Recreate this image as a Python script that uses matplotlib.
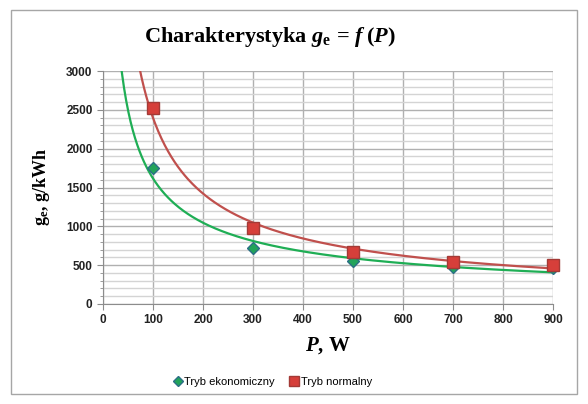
import numpy as np
import matplotlib
matplotlib.use('Agg')
import matplotlib.pyplot as plt
from matplotlib.patches import Rectangle
from matplotlib.ticker import MultipleLocator

plt.rcParams['mathtext.fontset'] = 'custom'
plt.rcParams['mathtext.rm'] = 'Liberation Serif'
plt.rcParams['mathtext.it'] = 'Liberation Serif:italic'
plt.rcParams['mathtext.bf'] = 'Liberation Serif:bold'
plt.rcParams['mathtext.bfit'] = 'Liberation Serif:italic:bold'

#%% Data
P = [100, 300, 500, 700, 900]                 # power, W
ge_eko = [1750, 720, 550, 470, 460]           # Tryb ekonomiczny, g/kWh
ge_norm = [2530, 980, 665, 545, 505]          # Tryb normalny, g/kWh
x_ticks = [0, 100, 200, 300, 400, 500, 600, 700, 800, 900]
y_ticks = [0, 500, 1000, 1500, 2000, 2500, 3000]

#%% Power trend lines (least squares in log-log, like Excel)
def power_fit(x, y):
    b, ln_a = np.polyfit(np.log(x), np.log(y), 1)
    return np.exp(ln_a), b

xx = np.linspace(20, 900, 400)
a1, b1 = power_fit(P, ge_eko)
a2, b2 = power_fit(P, ge_norm)

green = '#1fae55'
red = '#c0504d'

fig = plt.figure(figsize=(5.88, 4.04), dpi=100)
fig.patches.append(Rectangle((11/588, 1 - 394/404), 566/588, 384/404,
                             transform=fig.transFigure, fill=False,
                             edgecolor='#a6a6a6', linewidth=1.0))

ax = fig.add_axes([103/588, 100/404, 450/588, 233/404])
ax.plot(xx, a1 * xx**b1, '-', color=green, linewidth=1.6, zorder=3)
ax.plot(xx, a2 * xx**b2, '-', color=red, linewidth=1.6, zorder=3)
ax.plot(P, ge_eko, linestyle='none', marker='D', markersize=6.5,
        markerfacecolor='#22a35a', markeredgecolor='#2b6f86', markeredgewidth=1.0,
        label='Tryb ekonomiczny', zorder=4, clip_on=False)
ax.plot(P, ge_norm, linestyle='none', marker='s', markersize=8.5,
        markerfacecolor='#d63f3a', markeredgecolor='#a33a36', markeredgewidth=1.0,
        label='Tryb normalny', zorder=5, clip_on=False)

ax.set_xlim(0, 900)
ax.set_ylim(0, 3000)
ax.set_xticks(x_ticks)
ax.set_yticks(y_ticks)
ax.yaxis.set_minor_locator(MultipleLocator(100))
ax.grid(which='major', axis='both', color='#b0b0b0', linewidth=1.0)
ax.grid(which='minor', axis='y', color='#d4d4d4', linewidth=1.0)
ax.set_axisbelow(True)
for s in ['top', 'right']:
    ax.spines[s].set_visible(False)
for s in ['left', 'bottom']:
    ax.spines[s].set_color('#8c8c8c')
ax.tick_params(which='both', colors='#8c8c8c', labelcolor='#222222')
ax.tick_params(which='major', length=4)
ax.tick_params(which='minor', length=2.5)
for lab in ax.get_xticklabels() + ax.get_yticklabels():
    lab.set_fontfamily('Liberation Sans')
    lab.set_fontweight('bold')
    lab.set_fontsize(8.5)

ax.set_xlabel(r'$\mathbfit{P}$, W', fontfamily='Liberation Serif',
              fontweight='bold', fontsize=15, labelpad=6)
ax.set_ylabel(r'$\mathbf{g_e}$, g/kWh', fontfamily='Liberation Serif',
              fontweight='bold', fontsize=13, labelpad=10)

fig.text(270/588, 1 - 37/404,
         r'Charakterystyka $\mathbfit{g}_{\mathbf{e}}\, \mathbf{=}\, \mathbfit{f}\;\mathbf{(}\mathbfit{P}\mathbf{)}$',
         ha='center', va='center', fontfamily='Liberation Serif',
         fontweight='bold', fontsize=16)

leg = fig.legend(loc='center', bbox_to_anchor=(272/588, 1 - 382/404), ncol=2,
                 frameon=False, prop={'family': 'Liberation Sans', 'size': 8},
                 handletextpad=0.1, columnspacing=1.2, handlelength=1.0,
                 markerscale=0.8)

fig.savefig('out.png', dpi=100)
